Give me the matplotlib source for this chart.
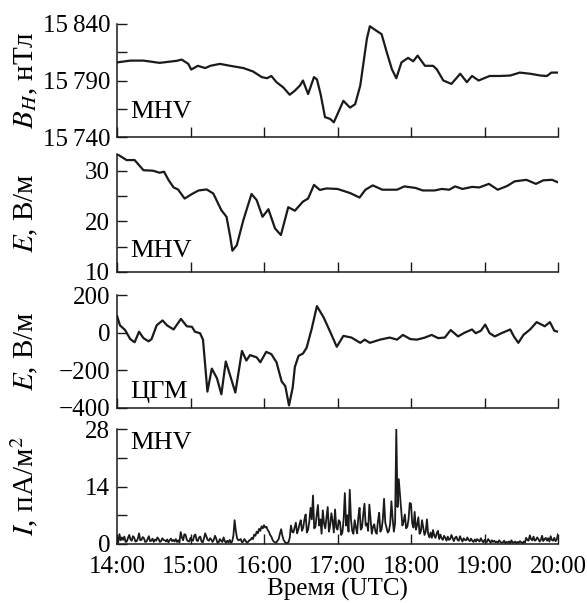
import matplotlib
matplotlib.use("Agg")
from matplotlib import pyplot as plt
from matplotlib.ticker import FixedLocator, NullFormatter

plt.rcParams["font.family"] = ["Liberation Serif", "DejaVu Serif"]
plt.rcParams["mathtext.fontset"] = "stix"

# hours after 14:00 UTC
bh_t = [0.0, 0.18, 0.36, 0.58, 0.81, 0.88, 0.97, 1.01, 1.10, 1.20, 1.27, 1.40, 1.54,
        1.72, 1.85, 1.97, 2.04, 2.10, 2.17, 2.26, 2.35, 2.42, 2.49, 2.53, 2.60, 2.68,
        2.72, 2.77, 2.83, 2.90, 2.95, 3.08, 3.17, 3.24, 3.31, 3.40, 3.44, 3.53, 3.60,
        3.67, 3.74, 3.80, 3.87, 3.96, 4.03, 4.09, 4.19, 4.30, 4.35, 4.44, 4.55, 4.67,
        4.76, 4.83, 4.92, 5.07, 5.21, 5.35, 5.48, 5.62, 5.76, 5.85, 5.91, 6.0]
bh_v = [15806, 15807.6, 15807.6, 15805.6, 15807.4, 15808.5, 15804.7, 15799.7, 15803,
        15801, 15803, 15804.7, 15803, 15801, 15798, 15793, 15792, 15794, 15788.5,
        15784, 15777.4, 15781, 15785.6, 15790, 15778, 15793, 15791, 15778, 15757.6,
        15756, 15753, 15772, 15766, 15769, 15785.6, 15827, 15838, 15834, 15831, 15815,
        15800, 15792, 15806, 15810, 15807, 15812, 15803, 15803, 15800, 15790, 15787,
        15796, 15788.5, 15794, 15790, 15794, 15794, 15794.4, 15797, 15796, 15794.4,
        15794, 15797, 15797]

e1_t = [0.0, 0.13, 0.24, 0.36, 0.49, 0.58, 0.64, 0.70, 0.77, 0.83, 0.92, 1.02, 1.11,
        1.22, 1.31, 1.42, 1.49, 1.54, 1.57, 1.63, 1.72, 1.83, 1.90, 1.98, 2.06, 2.15,
        2.23, 2.33, 2.42, 2.53, 2.60, 2.68, 2.76, 2.85, 3.0, 3.17, 3.30, 3.38, 3.48,
        3.61, 3.81, 3.91, 4.06, 4.16, 4.32, 4.42, 4.52, 4.60, 4.70, 4.83, 4.93, 5.06,
        5.18, 5.31, 5.41, 5.57, 5.70, 5.80, 5.92, 6.0]
e1_v = [33.3, 32.1, 32.1, 30.1, 30.0, 29.6, 29.8, 28.2, 26.7, 26.3, 24.5, 25.4, 26.1,
        26.3, 25.5, 22.2, 20.9, 17.0, 14.2, 15.3, 20.3, 25.4, 24.2, 20.9, 22.4, 18.6,
        17.3, 22.8, 22.1, 23.9, 24.5, 27.2, 26.2, 26.5, 26.4, 25.6, 24.7, 26.25, 27.1,
        26.25, 26.25, 26.9, 26.6, 26.1, 26.1, 26.4, 26.25, 26.9, 26.4, 26.8, 26.7,
        27.4, 26.25, 27.0, 27.9, 28.2, 27.4, 28.1, 28.2, 27.7]

e2_t = [0.0, 0.04, 0.11, 0.18, 0.24, 0.30, 0.36, 0.43, 0.47, 0.54, 0.62, 0.68, 0.77,
        0.87, 0.95, 1.02, 1.06, 1.13, 1.17, 1.20, 1.23, 1.29, 1.36, 1.42, 1.48, 1.54,
        1.61, 1.70, 1.76, 1.81, 1.90, 1.95, 2.03, 2.10, 2.17, 2.24, 2.29, 2.34, 2.39,
        2.42, 2.47, 2.53, 2.58, 2.65, 2.72, 2.81, 2.90, 2.99, 3.08, 3.19, 3.31, 3.37,
        3.44, 3.58, 3.71, 3.81, 3.89, 3.99, 4.08, 4.19, 4.28, 4.37, 4.46, 4.54, 4.64,
        4.73, 4.83, 4.88, 4.95, 5.01, 5.07, 5.14, 5.23, 5.35, 5.40, 5.46, 5.53, 5.62,
        5.71, 5.82, 5.89, 5.95, 6.0]
e2_v = [90, 39, 14, -34, -51, 5, -29, -46, -34, 39, 65, 39, 17, 73, 34, 31, 5, -3,
        -37, -174, -313, -191, -242, -327, -153, -228, -318, -97, -148, -119, -131,
        -157, -102, -114, -157, -259, -284, -386, -293, -182, -123, -111, -80, 22, 141,
        82, 5, -75, -17, -26, -54, -37, -54, -37, -26, -37, -12, -34, -37, -26, -12,
        -29, -26, 14, -20, 0, 17, -3, 10, 43, -3, -20, -3, 17, -20, -54, -12, 17, 56,
        34, 56, 10, 5]

# current density, one value per minute from 14:00 to 20:00 (rows of 15 min)
cur = [1.2, 0.4, 2.4, 0.9, 1.6, 1.0, 1.8, 0.5, 0.6, 1.5, 2.2, 1.1, 0.8, 1.9, 1.6,
       0.6, 0.7, 1.3, 2.6, 0.9, 1.0, 1.7, 1.4, 0.5, 0.6, 1.2, 1.9, 0.7, 0.8, 1.3,
       0.5, 1.1, 0.8, 1.6, 1.2, 0.5, 0.7, 1.4, 1.0, 0.9, 0.6, 1.1, 0.4, 0.9, 1.3,
       0.7, 1.0, 0.6, 1.2, 0.5, 0.9, 0.4, 2.9, 1.6, 0.9, 2.4, 2.2, 1.0, 0.7, 0.6,
       1.5, 0.9, 0.8, 2.0, 2.3, 0.9, 0.7, 1.6, 1.8, 0.6, 0.4, 1.4, 2.6, 1.8, 1.0,
       0.8, 1.4, 1.1, 0.5, 1.0, 2.0, 1.3, 0.3, 0.4, 1.2, 0.8, 0.5, 1.6, 0.7, 0.3,
       0.8, 0.4, 1.0, 0.3, 0.6, 2.0, 5.8, 3.2, 1.4, 0.9, 1.0, 1.2, 0.4, 0.6, 1.2,
       0.8, 0.3, 0.5, 0.9, 1.0, 1.5, 1.2, 2.3, 2.0, 3.0, 2.6, 3.7, 3.2, 4.3, 3.8,
       4.6, 4.0, 4.2, 3.4, 3.0, 2.2, 1.8, 1.0, 0.6, 0.4, 0.3, 0.8, 1.2, 2.5, 3.6,
       2.0, 1.0, 0.5, 0.2, 0.3, 0.4, 1.5, 4.5, 3.0, 2.8, 4.0, 5.2, 2.6, 3.5, 4.8,
       5.8, 3.2, 4.0, 6.0, 7.2, 2.8, 3.5, 5.5, 8.8, 6.0, 11.8, 3.8, 4.2, 7.0, 9.5,
       4.5, 6.0, 2.5, 8.2, 5.0, 3.8, 6.5, 9.0, 3.0, 4.5, 7.5, 5.6, 2.8, 8.4, 4.0,
       3.5, 5.8, 5.4, 2.2, 2.8, 6.0, 12.4, 4.5, 7.0, 3.0, 13.2, 6.0, 3.2, 2.5, 5.8,
       4.0, 2.6, 6.5, 8.8, 3.5, 4.0, 7.2, 9.8, 4.5, 5.0, 3.2, 9.6, 6.0, 2.5, 4.2,
       4.8, 3.0, 2.5, 5.5, 7.6, 3.0, 3.6, 6.0, 11.0, 5.2, 4.0, 2.8, 3.2, 5.0, 10.4,
       6.2, 3.0, 5.0, 28.0, 9.0, 15.8, 12.0, 8.0, 4.5, 5.5, 7.2, 3.8, 4.2, 6.0, 10.0,
       9.8, 5.0, 4.0, 7.8, 3.5, 4.6, 6.5, 2.5, 3.0, 5.8, 4.0, 2.2, 3.0, 6.0, 2.5,
       1.6, 2.8, 1.5, 3.4, 2.0, 1.5, 2.6, 3.2, 1.2, 2.3, 1.4, 1.0, 2.0, 1.5, 0.8,
       1.8, 1.0, 1.2, 2.2, 1.4, 0.7, 1.5, 1.8, 1.0, 0.8, 1.9, 1.2, 0.6, 1.4, 1.0,
       0.9, 1.6, 1.0, 0.7, 1.3, 0.8, 0.5, 1.1, 0.6, 1.2, 0.9, 0.6, 1.4, 0.8, 0.4,
       1.0, 0.6, 0.5, 1.2, 0.8, 0.3, 0.9, 0.5, 0.8, 0.4, 0.6, 0.3, 0.9, 0.5, 0.3,
       0.4, 0.8, 0.2, 0.5, 0.3, 0.6, 0.2, 0.9, 0.3, 0.4, 0.6, 0.2, 0.5, 0.3, 0.7,
       0.4, 0.2, 0.6, 0.3, 1.5, 1.0, 0.8, 2.1, 1.2, 0.9, 1.8, 0.8, 1.0, 1.6, 1.2,
       0.6, 1.0, 2.0, 0.7, 1.2, 1.5, 0.8, 1.4, 0.6, 1.9, 1.0, 0.8, 1.5, 0.7, 1.1,
       2.4]
cur_t = [i / 60 for i in range(len(cur))]

hours = [0, 1, 2, 3, 4, 5, 6]
hour_labels = ["14:00", "15:00", "16:00", "17:00", "18:00", "19:00", "20:00"]

fig = plt.figure(figsize=(5.87, 6.03), dpi=100)
W, H = 587, 603
left, width = 117 / W, 441 / W
# (top px, bottom px) of each panel
boxes = [(24, 137), (154, 272), (295, 408), (429, 544)]
axes = [fig.add_axes([left, (H - b) / H, width, (b - t) / H]) for t, b in boxes]

series = [(bh_t, bh_v), (e1_t, e1_v), (e2_t, e2_v), (cur_t, cur)]
ylims = [(15740, 15840), (10, 33.3), (-400, 200), (0, 28)]
majors = [[15740, 15790, 15840], [10, 20, 30], [-400, -200, 0, 200], [0, 14, 28]]
major_labels = [["15\u2009740", "15\u2009790", "15\u2009840"], ["10", "20", "30"],
                ["\u2212400", "\u2212200", "0", "200"], ["0", "14", "28"]]
minors = [[15765, 15815], [15, 25], [], [7, 21]]
ylabels = ["$B_H$, нТл", "$E$, В/м", "$E$, В/м", "$I$, пА/м$^2$"]
tags = [("MHV", 0.168), ("MHV", 0.128), ("ЦГМ", 0.088), ("MHV", 0.826)]

for i, ax in enumerate(axes):
    xs, ys = series[i]
    lw = 1.3 if i == 3 else 1.6
    ax.plot(xs, ys, color="#1a1a1a", lw=lw)
    ax.set_xlim(0, 6)
    ax.set_ylim(*ylims[i])
    for s in ["top", "right"]:
        ax.spines[s].set_visible(False)
    for s in ["left", "bottom"]:
        ax.spines[s].set_linewidth(1.1)
        ax.spines[s].set_color("#1a1a1a")
    ax.set_xticks(hours)
    if i == 3:
        ax.set_xticklabels(hour_labels)
    else:
        ax.set_xticklabels([])
    ax.set_yticks(majors[i])
    ax.set_yticklabels(major_labels[i])
    ax.yaxis.set_minor_locator(FixedLocator(minors[i]))
    ax.yaxis.set_minor_formatter(NullFormatter())
    ax.tick_params(which="both", direction="in", length=7, width=1.0,
                   color="#1a1a1a", labelsize=18, pad=5)
    ax.tick_params(axis="x", pad=8.5)
    ax.set_ylabel(ylabels[i], fontsize=21)
    ax.yaxis.set_label_coords(-0.175, 0.5)
    txt, yy = tags[i]
    ax.text(0.031, yy, txt, transform=ax.transAxes, fontsize=19, va="baseline",
            ha="left")
    ax.patch.set_alpha(0)

axes[3].set_xlabel("Время (UTC)", fontsize=18, labelpad=0)

fig.savefig("out.png", dpi=100)
